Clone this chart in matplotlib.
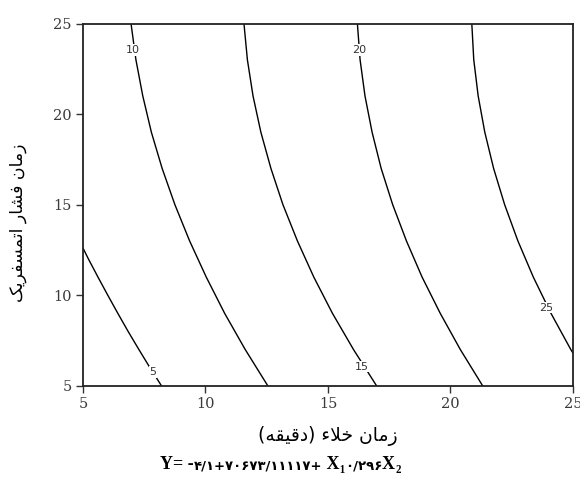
import matplotlib
matplotlib.use("Agg")
import matplotlib.pyplot as plt
from matplotlib.offsetbox import TextArea, HPacker, AnchoredOffsetbox

# contour levels and traced lines (x = vacuum time, y = atmospheric time)
levels = [5, 10, 15, 20, 25]

y_5 = [12.6, 12, 11, 10, 9, 8, 7, 6, 5]
x_5 = [5.00, 5.22, 5.61, 6.01, 6.42, 6.84, 7.28, 7.73, 8.20]

y_grid = [25, 23, 21, 19, 17, 15, 13, 11, 9, 7, 5]
x_10 = [6.96, 7.16, 7.44, 7.79, 8.23, 8.75, 9.35, 10.03, 10.78, 11.62, 12.54]
x_15 = [11.57, 11.71, 11.94, 12.26, 12.67, 13.16, 13.75, 14.42, 15.18, 16.04, 16.98]
x_20 = [16.20, 16.31, 16.51, 16.80, 17.17, 17.64, 18.20, 18.84, 19.58, 20.40, 21.31]

y_25 = [25, 23, 21, 19, 17, 15, 13, 11, 9, 7, 6.8]
x_25 = [20.87, 20.95, 21.13, 21.40, 21.76, 22.21, 22.75, 23.38, 24.10, 24.91, 25.0]

# where each level's label sits
label_x = [7.86, 7.04, 16.39, 16.27, 23.9]
label_y = [5.77, 23.53, 6.05, 23.53, 9.31]

ticks = [5, 10, 15, 20, 25]

# Persian labels, pre-shaped (presentation forms, visual order)
xlabel = ("(\uFEEA\uFED8\uFEF4\uFED7\uFEA9) "
          "\uFE80\uFEFC\uFEA7 \uFEE5\uFE8E\uFEE3\uFEAF")
ylabel = ("\uFB8F\uFEF3\uFEAE\uFED4\uFEB4\uFEE4\uFE97\uFE8D "
          "\uFEAD\uFE8E\uFEB8\uFED3 \uFEE5\uFE8E\uFEE3\uFEAF")
# equation below the chart, split into latin / persian-digit runs
eq_parts = ["Y= -", "۴/۱+۷۰۶۷۳/۱۱۱۱۷+", " X", "₁", "۰/۲۹۶", "X", "₂"]
eq_kind = ["lat", "fa", "lat", "lat", "fa", "lat", "lat"]

fig = plt.figure(figsize=(5.8, 4.79), dpi=100)
ax = fig.add_axes([0.1431, 0.1948, 0.8448, 0.7561])

lines_x = [x_5, x_10, x_15, x_20, x_25]
lines_y = [y_5, y_grid, y_grid, y_grid, y_25]
for xs, ys in zip(lines_x, lines_y):
    ax.plot(xs, ys, color="black", lw=1.0)

for lev, lx, ly in zip(levels, label_x, label_y):
    ax.text(lx, ly, str(lev), fontsize=8, color="#333333",
            family="DejaVu Sans", ha="center", va="center",
            bbox=dict(facecolor="white", edgecolor="none", pad=0.6))

ax.set_xlim(5, 25)
ax.set_ylim(5, 25)
ax.set_xticks(ticks)
ax.set_yticks(ticks)
ax.tick_params(direction="out", length=5, width=1, color="#333333",
               labelsize=10.5, labelcolor="#3a3a3a", pad=3)
for lab in ax.get_xticklabels() + ax.get_yticklabels():
    lab.set_family("DejaVu Serif")
for sp in ax.spines.values():
    sp.set_linewidth(1.3)
    sp.set_color("#222222")

ax.set_xlabel(xlabel, fontsize=13.5, family="DejaVu Sans", labelpad=11)
ax.set_ylabel(ylabel, fontsize=12.5, family="DejaVu Sans")
ax.yaxis.set_label_coords(-0.115, 0.45)

lat = dict(fontsize=13, fontweight="bold", family=["Liberation Serif", "DejaVu Sans"])
fa = dict(fontsize=9.5, fontweight="bold", family="DejaVu Sans")
areas = [TextArea(s, textprops=lat if k == "lat" else fa)
         for s, k in zip(eq_parts, eq_kind)]
pack = HPacker(children=areas, align="baseline", pad=0, sep=0)
eq_box = AnchoredOffsetbox(loc="center", child=pack, frameon=False,
                           bbox_to_anchor=(0.483, 0.03),
                           bbox_transform=fig.transFigure,
                           borderpad=0, pad=0)
fig.add_artist(eq_box)

fig.savefig("out.png", dpi=100)
